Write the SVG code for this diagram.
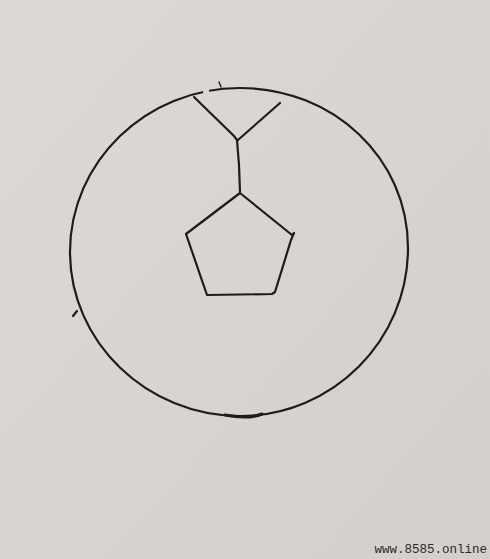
<svg xmlns="http://www.w3.org/2000/svg" width="490" height="559" viewBox="0 0 490 559">
<style>
.ink{fill:none;stroke:#1e1c1b;stroke-width:2.2;stroke-linecap:round;stroke-linejoin:round}
.wm{font-family:"Liberation Mono",monospace;font-size:12.5px;fill:#2a2a2a}
</style>
<defs>
<linearGradient id="bg" x1="0" y1="0" x2="1" y2="1">
<stop offset="0" stop-color="#ddd9d4"/>
<stop offset="1" stop-color="#d3cfca"/>
</linearGradient>
</defs>
<rect width="490" height="559" fill="url(#bg)"/>
<g id="circle">
<path class="ink" d="M240,88 C333,88 408,158 408,248 C408,340 333,416 240,416 C147,416 70,342 70,252 C70,162 146,88 240,88 Z"/>
<path d="M203,91.5 L209,90.5" stroke="#dcd8d3" stroke-width="4" fill="none"/>
<path class="ink" d="M73,316 L77,311"/>
<path class="ink" d="M225,415 C240,418 252,418 262,414" style="stroke-width:3"/>
<path class="ink" d="M219,82 L221,87" style="stroke-width:1.4"/>
</g>
<g id="y-shape">
<path class="ink" d="M194,97 L234,136 L237,140"/>
<path class="ink" d="M280,103 L238,140"/>
<path class="ink" d="M237,140 L239,165 L240,192"/>
</g>
<g id="pentagon">
<path class="ink" d="M240,193 L292,235 L294,233 L291,240 L275,292 L272,294 L207,295 L186,234 L240,193 Z"/>
</g>
<text class="wm" x="487" y="553" text-anchor="end">www.8585.online</text>
</svg>
